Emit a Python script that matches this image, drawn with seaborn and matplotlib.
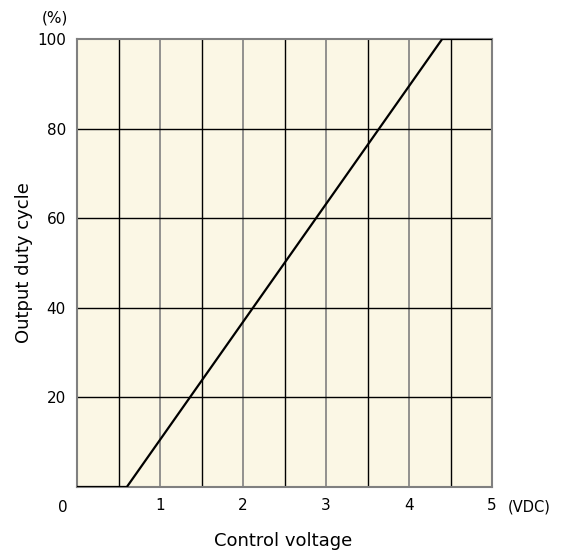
import matplotlib
matplotlib.use("Agg")
import matplotlib.pyplot as plt
import seaborn as sns
import pandas as pd
import numpy as np

# Data
voltage = [0.0, 0.6, 4.4, 5.0]
duty = [0, 0, 100, 100]
x_ticks = [1, 2, 3, 4, 5]
y_ticks = [20, 40, 60, 80, 100]

sns.set_style("white")
plt.rcParams['font.family'] = ['DejaVu Sans']
plt.rcParams['text.color'] = 'black'

fig = plt.figure(figsize=(5.66, 5.57), dpi=100)
ax = fig.add_axes([77/566, 1-487/557, 415/566, 448/557])
ax.set_facecolor("#FBF7E5")

df = pd.DataFrame({"v": voltage, "d": duty})
sns.lineplot(data=df, x="v", y="d", ax=ax, color="black", linewidth=1.6, zorder=5)

ax.set_xlim(0, 5)
ax.set_ylim(0, 100)
ax.set_xticks(x_ticks)
ax.set_xticklabels([str(t) for t in x_ticks], fontsize=11)
ax.set_yticks(y_ticks)
ax.set_yticklabels([str(t) for t in y_ticks], fontsize=11)
ax.tick_params(axis="both", which="both", length=0, labelcolor="black")
ax.tick_params(axis="x", pad=8)
ax.tick_params(axis="y", pad=8)
ax.set_xlabel("")
ax.set_ylabel("")

ax.grid(False)
for v in x_ticks[:-1]:
    ax.axvline(v, color="#808080", linewidth=1.2, zorder=1)
for v in np.arange(0.5, 5, 1.0):
    ax.axvline(v, color="black", linewidth=1.0, zorder=1)
for v in y_ticks[:-1]:
    ax.axhline(v, color="black", linewidth=1.0, zorder=1)

for s in ax.spines.values():
    s.set_color("#808080")
    s.set_linewidth(1.5)

fig.text(283/566, 1-541/557, "Control voltage", fontsize=13, ha="center", va="center")
fig.text(24/566, 1-263/557, "Output duty cycle", fontsize=13, ha="center", va="center", rotation=90)
fig.text(63/566, 1-507/557, "0", fontsize=11, ha="center", va="center")
fig.text(55/566, 1-18/557, "(%)", fontsize=11, ha="center", va="center")
fig.text(529/566, 1-507/557, "(VDC)", fontsize=10.5, ha="center", va="center")

fig.savefig("out.png", dpi=100)
